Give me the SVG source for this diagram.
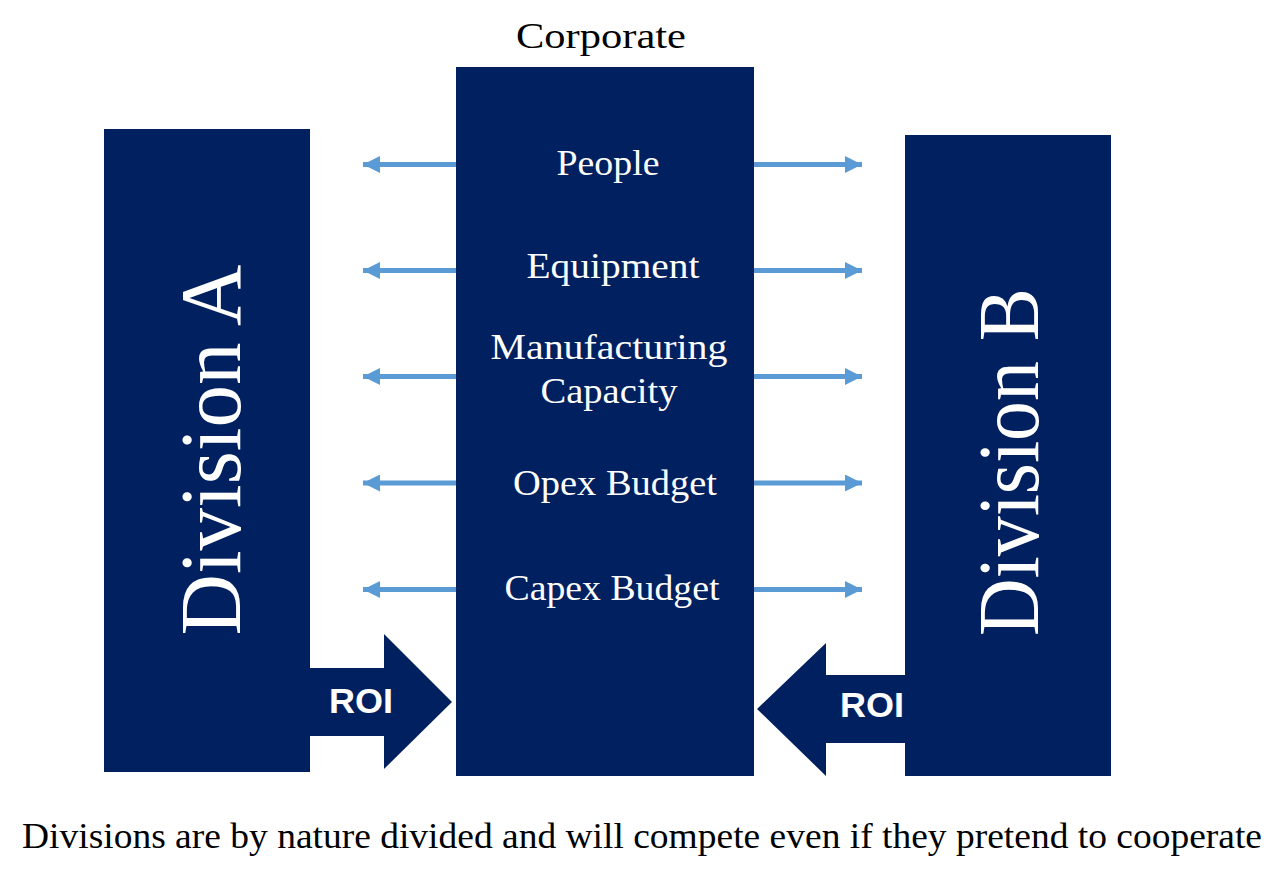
<svg xmlns="http://www.w3.org/2000/svg" width="1285" height="885" viewBox="0 0 1285 885">
<defs>
<style>
.box{fill:#012060}
.lbl{font-family:"Liberation Serif",serif;fill:#fff;font-size:36px;text-anchor:middle}
.div{font-family:"Liberation Serif",serif;fill:#fff;font-size:86px;text-anchor:middle}
.roi{font-family:"Liberation Sans",sans-serif;font-weight:bold;fill:#fff;font-size:35px;text-anchor:middle}
.cap{font-family:"Liberation Serif",serif;fill:#000;font-size:36px;text-anchor:middle}
.conn{stroke:#5B9BD5;stroke-width:5;fill:none}
</style>
<marker id="ah" viewBox="0 0 17 17" refX="17" refY="8.5" markerWidth="17" markerHeight="17" markerUnits="userSpaceOnUse" orient="auto">
<path d="M0,0 L17,8.5 L0,17 Z" fill="#5B9BD5"/>
</marker>
</defs>
<rect width="1285" height="885" fill="#fff"/>
<g id="divisionA">
<rect class="box" x="104" y="129" width="206" height="643"/>
<text class="div" transform="translate(240,450) rotate(-90)" textLength="371" lengthAdjust="spacingAndGlyphs">Division A</text>
</g>
<g id="divisionB">
<rect class="box" x="905" y="135" width="206" height="641"/>
<text class="div" transform="translate(1038,462) rotate(-90)" textLength="348" lengthAdjust="spacingAndGlyphs">Division B</text>
</g>
<g id="corporate">
<text class="cap" x="601" y="48" textLength="170" lengthAdjust="spacingAndGlyphs">Corporate</text>
<rect class="box" x="456" y="67" width="298" height="709"/>
<text class="lbl" x="608" y="175" textLength="103" lengthAdjust="spacingAndGlyphs">People</text>
<text class="lbl" x="613" y="278" textLength="173" lengthAdjust="spacingAndGlyphs">Equipment</text>
<text class="lbl" x="609" y="359" textLength="237" lengthAdjust="spacingAndGlyphs">Manufacturing</text>
<text class="lbl" x="609" y="403" textLength="137" lengthAdjust="spacingAndGlyphs">Capacity</text>
<text class="lbl" x="615" y="495" textLength="204" lengthAdjust="spacingAndGlyphs">Opex Budget</text>
<text class="lbl" x="612" y="600" textLength="215" lengthAdjust="spacingAndGlyphs">Capex Budget</text>
</g>
<g id="roiA">
<path class="box" d="M310,668 L384,668 L384,634 L452,702 L384,769 L384,736 L310,736 Z"/>
<text class="roi" x="361" y="713" textLength="64" lengthAdjust="spacingAndGlyphs">ROI</text>
</g>
<g id="roiB">
<path class="box" d="M905,675 L826,675 L826,643 L757,709 L826,776 L826,743 L905,743 Z"/>
<text class="roi" x="872" y="717" textLength="64" lengthAdjust="spacingAndGlyphs">ROI</text>
</g>
<g id="connectors">
<line class="conn" x1="456" y1="164.5" x2="363" y2="164.5" marker-end="url(#ah)"/>
<line class="conn" x1="754" y1="164.5" x2="862" y2="164.5" marker-end="url(#ah)"/>
<line class="conn" x1="456" y1="270.5" x2="363" y2="270.5" marker-end="url(#ah)"/>
<line class="conn" x1="754" y1="270.5" x2="862" y2="270.5" marker-end="url(#ah)"/>
<line class="conn" x1="456" y1="376.5" x2="363" y2="376.5" marker-end="url(#ah)"/>
<line class="conn" x1="754" y1="376.5" x2="862" y2="376.5" marker-end="url(#ah)"/>
<line class="conn" x1="456" y1="483" x2="363" y2="483" marker-end="url(#ah)"/>
<line class="conn" x1="754" y1="483" x2="862" y2="483" marker-end="url(#ah)"/>
<line class="conn" x1="456" y1="589.5" x2="363" y2="589.5" marker-end="url(#ah)"/>
<line class="conn" x1="754" y1="589.5" x2="862" y2="589.5" marker-end="url(#ah)"/>
</g>
<text class="cap" x="642" y="848" textLength="1240" lengthAdjust="spacingAndGlyphs">Divisions are by nature divided and will compete even if they pretend to cooperate</text>
</svg>
